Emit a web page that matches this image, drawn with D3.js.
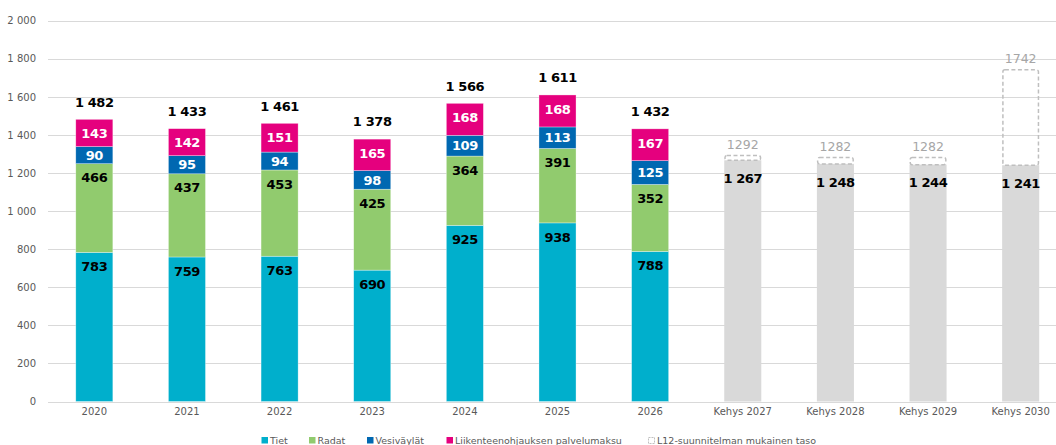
<!DOCTYPE html>
<html><head><meta charset="utf-8">
<script src="https://cdn.jsdelivr.net/npm/d3@7"></script>
<style>body{margin:0;background:#fff}svg{display:block}</style>
</head><body>
<svg id="c" width="1056" height="445"></svg>
<script>
const years = ["2020","2021","2022","2023","2024","2025","2026"];
const tiet = [783,759,763,690,925,938,788];
const radat = [466,437,453,425,364,391,352];
const vesivaylat = [90,95,94,98,109,113,125];
const liikenne = [143,142,151,165,168,168,167];
const totals = [1482,1433,1461,1378,1566,1611,1432];
const kehysCats = ["Kehys 2027","Kehys 2028","Kehys 2029","Kehys 2030"];
const kehysValues = [1267,1248,1244,1241];
const l12Values = [1292,1282,1282,1742];
const yTicks = [0,200,400,600,800,1000,1200,1400,1600,1800,2000];
const seriesNames = ["Tiet","Radat","Vesiväylät","Liikenteenohjauksen palvelumaksu"];
const legendL12 = "L12-suunnitelman mukainen taso";

const colors = ["#00AFCC","#91CB6E","#0068B1","#E5007E"];
const labelColors = ["#000","#000","#fff","#fff"];
const font = "'DejaVu Sans', Verdana, sans-serif";
const loc = d3.formatLocale({decimal:",",thousands:" ",grouping:[3],currency:["",""]});
const fmt = loc.format(",d");

const svg = d3.select("#c");
const allCats = years.concat(kehysCats);
const x = d3.scaleBand().domain(allCats).range([48,1067]).paddingInner(0.6).paddingOuter(0.3);
const y = d3.scaleLinear().domain([0,2000]).range([401.5,20.7]);

// gridlines
svg.append("g").selectAll("line").data(yTicks).join("line")
  .attr("x1",48).attr("x2",1056)
  .attr("y1",d=>Math.round(y(d))+0.5).attr("y2",d=>Math.round(y(d))+0.5)
  .attr("stroke","#D9D9D9").attr("stroke-width",1);

// y axis labels
const yAxis = d3.axisLeft(y).tickValues(yTicks).tickFormat(fmt).tickSize(0).tickPadding(0);
const ya = svg.append("g").attr("transform","translate(36,0)").call(yAxis);
ya.select(".domain").remove();
ya.selectAll("text").attr("font-family",font).attr("font-size",10).attr("fill","#595959");

// x axis labels
const xAxis = d3.axisBottom(x).tickSize(0).tickPadding(0);
const xa = svg.append("g").attr("transform","translate(0,408)").call(xAxis);
xa.select(".domain").remove();
xa.selectAll("text").attr("font-family",font).attr("font-size",10).attr("fill","#595959");

const lblSize = 13, lblSpacing = -0.4;

// stacked data
const rows = years.map((yr,i)=>({cat:yr, vals:[tiet[i],radat[i],vesivaylat[i],liikenne[i]], total:totals[i]}));
const bw = x.bandwidth();
rows.forEach(r=>{
  let base = 0;
  const g = svg.append("g");
  r.vals.forEach((v,k)=>{
    const y0 = y(base), y1 = y(base+v);
    g.append("rect").attr("x",x(r.cat)).attr("width",bw)
      .attr("y",y1).attr("height",y0-y1).attr("fill",colors[k])
      .attr("stroke","rgba(255,255,255,0.55)").attr("stroke-width",0.6);
    const h = y0-y1;
    g.append("text").attr("x",x(r.cat)+bw/2).attr("y",y1+Math.min(14,h/2))
      .attr("dy","0.36em").attr("text-anchor","middle")
      .attr("font-family",font).attr("font-size",lblSize).attr("font-weight","bold")
      .attr("letter-spacing",lblSpacing)
      .attr("fill",labelColors[k]).text(fmt(v));
    base += v;
  });
  g.append("text").attr("x",x(r.cat)+bw/2).attr("y",y(base)-17.5)
    .attr("dy","0.36em").attr("text-anchor","middle")
    .attr("font-family",font).attr("font-size",lblSize).attr("font-weight","bold")
    .attr("letter-spacing",lblSpacing)
    .attr("fill","#000").text(fmt(r.total));
});

// kehys bars
kehysCats.forEach((c,i)=>{
  const v = kehysValues[i], l = l12Values[i];
  svg.append("rect").attr("x",x(c)).attr("width",bw)
    .attr("y",y(v)).attr("height",y(0)-y(v)).attr("fill","#D9D9D9");
  svg.append("rect").attr("x",x(c)+0.75).attr("width",bw-1.5)
    .attr("y",y(l)).attr("height",y(v)-y(l)).attr("fill","none")
    .attr("stroke","#BFBFBF").attr("stroke-width",1.5).attr("stroke-dasharray","4,2.5")
    .attr("rx",2);
  svg.append("text").attr("x",x(c)+bw/2).attr("y",y(v)+18)
    .attr("dy","0.36em").attr("text-anchor","middle")
    .attr("font-family",font).attr("font-size",lblSize).attr("font-weight","bold")
    .attr("letter-spacing",lblSpacing)
    .attr("fill","#000").text(fmt(v));
  svg.append("text").attr("x",x(c)+bw/2).attr("y",y(l)-11)
    .attr("dy","0.36em").attr("text-anchor","middle")
    .attr("font-family",font).attr("font-size",12.5)
    .attr("fill","#A6A6A6").text(String(l));
});

// legend
const legY = 440.5;
const legX = [261.5,309,367,446.5];
seriesNames.forEach((n,k)=>{
  svg.append("rect").attr("x",legX[k]).attr("y",legY-3.5).attr("width",6.5).attr("height",6.5).attr("fill",colors[k]);
  svg.append("text").attr("x",legX[k]+8.5).attr("y",legY).attr("dy","0.36em")
    .attr("font-family",font).attr("font-size",9.5).attr("fill","#595959").text(n);
});
svg.append("rect").attr("x",648.5).attr("y",legY-3).attr("width",6).attr("height",6)
  .attr("fill","none").attr("stroke","#BFBFBF").attr("stroke-width",1).attr("stroke-dasharray","2,1");
svg.append("text").attr("x",657).attr("y",legY).attr("dy","0.36em")
  .attr("font-family",font).attr("font-size",9.5).attr("fill","#595959").text(legendL12);
</script>
</body></html>
